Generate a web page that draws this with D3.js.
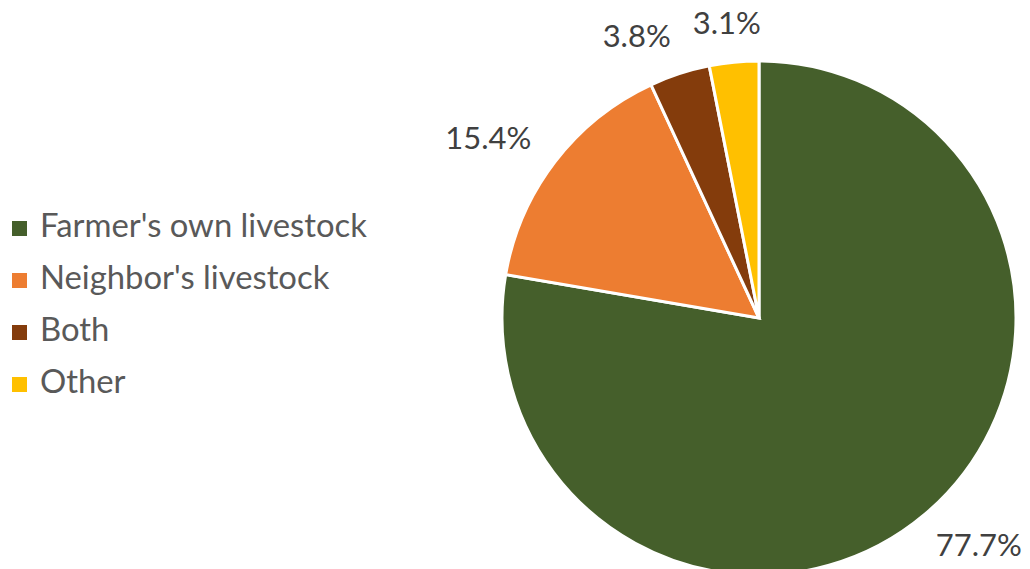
<!DOCTYPE html>
<html><head><meta charset="utf-8">
<script src="https://cdn.jsdelivr.net/npm/d3@7"></script>
<style>html,body{margin:0;padding:0;background:#fff;}svg{display:block;}</style>
</head><body>
<svg id="chart" width="1030" height="569"></svg>
<script>
const categories = ["Farmer's own livestock", "Neighbor's livestock", "Both", "Other"];
const values = [77.7, 15.4, 3.8, 3.1];
const valueLabels = ["77.7%", "15.4%", "3.8%", "3.1%"];
const colors = ["#455F2B", "#ED7D31", "#843C0C", "#FFC000"];

const svg = d3.select("#chart");
const cx = 759, cy = 318, R = 257;
const FONT = "Lato, 'Open Sans', sans-serif";

function fitSize(txt, targetW) {
  const t = svg.append("text").attr("font-family", FONT).attr("font-size", 100).text(txt);
  const w = t.node().getComputedTextLength();
  t.remove();
  return 100 * targetW / w;
}
const legendSize = fitSize(categories[0], 327);
const labelSize = fitSize(valueLabels[1], 86);

const pie = d3.pie().sort(null).value(d => d);
const arcs = pie(values);
const arc = d3.arc().innerRadius(0).outerRadius(R);

const g = svg.append("g").attr("transform", `translate(${cx},${cy})`);
g.selectAll("path").data(arcs).join("path")
  .attr("d", arc)
  .attr("fill", (d, i) => colors[i])
  .attr("stroke", "#fff")
  .attr("stroke-width", 3)
  .attr("stroke-linejoin", "miter");

// outside-end labels
const gap = 28, padX = 13;
const lab = arcs.map((d, i) => {
  const a = (d.startAngle + d.endAngle) / 2;
  const s = Math.sin(a), c = Math.cos(a);
  const t = svg.append("text").attr("font-family", FONT).attr("font-size", labelSize).text(valueLabels[i]);
  const w = t.node().getComputedTextLength();
  t.remove();
  const h = labelSize * 0.75;
  const px = s * (R + gap), py = -c * (R + gap);
  return { i, w, h, x: px + s * (w + 2 * padX) / 2, y: py - c * h / 2 };
});
for (let k = lab.length - 2; k >= 0; k--) {
  const a = lab[k], b = lab[k + 1];
  const vOverlap = Math.abs(a.y - b.y) < (a.h + b.h);
  const minGap = 22;
  if (vOverlap && a.x + a.w / 2 + minGap > b.x - b.w / 2 && a.x < b.x) {
    a.x = b.x - b.w / 2 - minGap - a.w / 2;
  }
}
g.selectAll("text.lbl").data(lab).join("text")
  .attr("class", "lbl")
  .attr("x", d => d.x).attr("y", d => d.y)
  .attr("dy", "0.36em")
  .attr("text-anchor", "middle")
  .attr("font-family", FONT)
  .attr("font-size", labelSize)
  .attr("fill", "#404040")
  .text(d => valueLabels[d.i]);

// legend
const legend = svg.append("g").attr("transform", "translate(12,0)");
const rowY = d3.scalePoint().domain(categories).range([237, 393]);
const items = legend.selectAll("g").data(categories).join("g")
  .attr("transform", d => `translate(0,${rowY(d)})`);
items.append("rect")
  .attr("x", 0).attr("y", -16).attr("width", 15).attr("height", 15)
  .attr("fill", (d, i) => colors[i]);
items.append("text")
  .attr("x", 28).attr("y", 0)
  .attr("font-family", FONT)
  .attr("font-size", legendSize)
  .attr("fill", "#595959")
  .text(d => d);
</script>
</body></html>
